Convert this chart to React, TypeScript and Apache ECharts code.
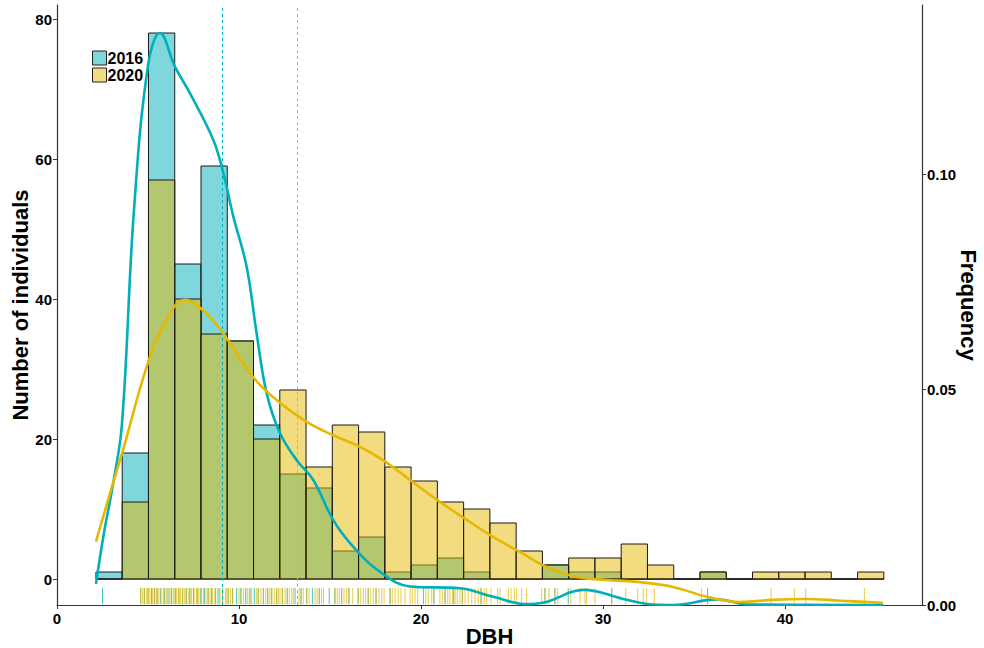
import React, { useEffect, useRef } from "react";
import * as echarts from "echarts";

// ---- Data ----
const binStart = 2.14; // first histogram bin edge (DBH)
const binWidth = 1.443; // histogram bin width (30 bins)
const counts2016 = [1, 18, 78, 45, 59, 34, 22, 15, 13, 4, 6, 1, 2, 3, 1, 0, 0, 2, 1, 1, 0, 0, 0, 1, 0, 0, 0, 0, 0, 0];
const counts2020 = [0, 11, 57, 40, 35, 34, 20, 27, 16, 22, 21, 16, 14, 11, 10, 8, 4, 2, 3, 3, 5, 2, 0, 1, 0, 1, 1, 1, 0, 1];

const dens2016: [number, number][] = [
  [2.14, 0.0049], [2.58, 0.0167], [3.09, 0.0283], [3.57, 0.042], [4.23, 0.0916], [5.02, 0.1257],
  [5.66, 0.1327], [6.48, 0.1249], [7.31, 0.1187], [8.59, 0.1079], [9.14, 0.1002],
  [9.69, 0.0901], [10.42, 0.0785], [10.97, 0.063], [11.52, 0.0491], [12.25, 0.0399], [13.17, 0.0336],
  [14.08, 0.029], [15.18, 0.0197], [16.28, 0.0135], [17.75, 0.0077], [19.4, 0.0043], [22.14, 0.0039],
  [23.97, 0.0019], [25.8, 0.0002], [26.7, 0.0005], [28.92, 0.0035], [31.3, 0.0012], [32.75, 0.0001],
  [33.85, 0.0], [36.25, 0.0013], [38.08, 0.0001], [45.4, 0.0],
];
const dens2020: [number, number][] = [
  [2.14, 0.0147], [3.08, 0.0283], [3.63, 0.036], [4.93, 0.0553], [5.82, 0.0645], [7.03, 0.0708],
  [8.02, 0.0684], [9.12, 0.0631], [10.77, 0.0529], [12.25, 0.0469], [13.72, 0.0425], [15.16, 0.0394],
  [16.65, 0.0367], [17.91, 0.0336], [19.4, 0.029], [20.88, 0.0244], [22.53, 0.0197], [23.96, 0.0158],
  [25.44, 0.0123], [26.92, 0.0088], [28.57, 0.0065], [30.22, 0.0058], [32.03, 0.0053], [33.85, 0.0042],
  [35.71, 0.0019], [37.53, 0.0007], [39.34, 0.0012], [41.21, 0.0014], [43.02, 0.001], [45.38, 0.0005],
];

const mean2016 = 9.07;
const mean2020 = 13.19;

const rug2016 = [
  2.5, 4.6, 4.8, 5.0, 5.2, 5.35, 5.5, 5.7, 5.9, 6.1, 6.3, 6.5, 6.7, 6.9, 7.1, 7.3, 7.5, 7.7, 7.9, 8.1,
  8.3, 8.5, 8.7, 8.9, 9.1, 9.4, 9.65, 9.87, 10.1, 10.37, 10.6, 10.84, 11.06, 11.34, 11.58, 11.8, 12.07,
  12.38, 12.65, 13.08, 13.41, 13.72, 14.03, 14.41, 14.96, 15.27, 15.64, 16.04, 16.55, 17.1, 17.53,
  18.3, 20.13, 20.71, 21.32, 21.8, 22.27, 23.3, 26.81, 27.36, 28.09, 30.48, 35.75,
];
const rug2020 = [
  4.6, 4.71, 4.8, 4.93, 5.02, 5.11, 5.24, 5.35, 5.44, 5.51, 5.6, 5.71, 5.84, 5.93, 6.03, 6.17, 6.26,
  6.39, 6.48, 6.58, 6.67, 6.78, 6.89, 6.99, 7.09, 7.21, 7.31, 7.4, 7.53, 7.67, 7.76, 7.86, 7.95, 8.06,
  8.19, 8.31, 8.41, 8.53, 8.68, 8.81, 8.96, 9.1, 9.27, 9.29, 9.41, 9.54, 9.65, 10.0, 10.11, 10.24,
  10.37, 10.48, 10.6, 10.7, 10.97, 11.06, 11.21, 11.34, 11.47, 11.58, 11.7, 11.8, 11.94, 12.07, 12.16,
  12.25, 12.38, 12.53, 12.65, 12.76, 12.9, 12.98, 13.3, 13.41, 13.53, 13.72, 13.85, 14.18, 14.29,
  14.41, 14.54, 14.65, 15.27, 15.4, 15.51, 15.64, 15.77, 15.92, 16.04, 16.25, 16.55, 16.69, 16.83,
  16.96, 17.1, 17.24, 17.38, 17.53, 17.69, 17.84, 17.97, 18.3, 18.42, 18.57, 18.75, 18.9, 19.12,
  19.4, 19.52, 19.67, 19.82, 20.26, 20.4, 20.59, 20.71, 21.04, 21.17, 21.32, 21.47, 21.59, 21.74,
  21.87, 21.99, 22.14, 22.27, 22.42, 22.6, 22.79, 22.97, 23.15, 23.3, 23.48, 23.61, 23.85, 24.21,
  24.34, 24.8, 24.95, 25.13, 25.26, 25.53, 25.81, 26.63, 26.81, 27.03, 27.36, 27.51, 28.23, 28.74,
  29.01, 29.1, 29.56, 30.48, 31.25, 31.91, 32.21, 32.4, 32.82, 35.42, 39.23, 40.51, 41.14, 44.36,
];

const xTicks = [0, 10, 20, 30, 40];
const yTicks = [0, 20, 40, 60, 80];
const y2Ticks = [0, 0.05, 0.1];

// ---- Styles ----
const FONT = "Liberation Sans, Arial, sans-serif";
const CYAN = "#00AFBB";
const YELLOW = "#E7B800";
const AXIS = "#333333";

function barSeries(name: string, counts: number[], fill: string, z: number) {
  return {
    name,
    type: "custom",
    xAxisIndex: 0,
    yAxisIndex: 0,
    z,
    silent: true,
    encode: { x: [0, 1], y: 2 },
    data: counts.map((c, i) => [binStart + i * binWidth, binStart + (i + 1) * binWidth, c]),
    renderItem: (params: any, api: any) => {
      const p0 = api.coord([api.value(0), api.value(2)]);
      const p1 = api.coord([api.value(1), 0]);
      return {
        type: "rect",
        shape: { x: p0[0], y: p0[1], width: p1[0] - p0[0], height: p1[1] - p0[1] },
        style: { fill, stroke: "#1a1a1a", lineWidth: 1 },
      };
    },
  };
}

function rugSeries(name: string, values: number[], color: string, z: number) {
  return {
    name,
    type: "custom",
    xAxisIndex: 0,
    yAxisIndex: 0,
    z,
    silent: true,
    encode: { x: 0 },
    data: values.map((v) => [v]),
    renderItem: (params: any, api: any) => {
      const p = api.coord([api.value(0), -1.3]);
      const q = api.coord([api.value(0), -3.6]);
      return {
        type: "line",
        shape: { x1: p[0], y1: p[1], x2: q[0], y2: q[1] },
        style: { stroke: color, lineWidth: 1, opacity: 0.75 },
      };
    },
  };
}

export default function App() {
  const ref = useRef<HTMLDivElement>(null);
  useEffect(() => {
    if (!ref.current) return;
    const chart = echarts.init(ref.current, null, { renderer: "svg" });
    const labelStyle = { fontFamily: FONT, fontWeight: "bold", fontSize: 15, color: "#000" };
    const nameStyle = { fontFamily: FONT, fontWeight: "bold", fontSize: 22, color: "#000" };
    chart.setOption({
      animation: false,
      backgroundColor: "#ffffff",
      grid: { left: 57, right: 62, top: 5, bottom: 43, containLabel: false, outerBoundsMode: "none" },
      legend: {
        orient: "vertical",
        left: 92,
        top: 50,
        padding: 0,
        itemWidth: 14,
        itemHeight: 14,
        itemGap: 1,
        selectedMode: false,
        textStyle: { fontFamily: FONT, fontWeight: "bold", fontSize: 16, color: "#000", padding: [0, 0, 0, -4] },
        data: [
          { name: "2016", icon: "rect", itemStyle: { color: "#7fd7dd", borderColor: "#222", borderWidth: 1 } },
          { name: "2020", icon: "rect", itemStyle: { color: "#f3db7f", borderColor: "#222", borderWidth: 1 } },
        ],
      },
      xAxis: {
        type: "value",
        min: 0,
        max: 865 / 18.2,
        name: "DBH",
        nameLocation: "middle",
        nameGap: 20,
        nameMoveOverlap: false,
        nameTextStyle: nameStyle,
        splitLine: { show: false },
        axisLine: { show: true, onZero: false, lineStyle: { color: AXIS, width: 1.2 } },
        axisTick: { show: true, length: 4, customValues: xTicks, lineStyle: { color: AXIS } },
        axisLabel: { ...labelStyle, margin: 6, customValues: xTicks },
      },
      yAxis: [
        {
          type: "value",
          min: -26 / 7,
          max: 574 / 7,
          position: "left",
          name: "Number of individuals",
          nameLocation: "middle",
          nameGap: 26,
          nameMoveOverlap: false,
          nameTextStyle: nameStyle,
          splitLine: { show: false },
          axisLine: { show: true, onZero: false, lineStyle: { color: AXIS, width: 1.2 } },
          axisTick: { show: true, length: 4, customValues: yTicks, lineStyle: { color: AXIS } },
          axisLabel: { ...labelStyle, margin: 5, customValues: yTicks },
        },
        {
          type: "value",
          min: 0,
          max: 600 / 4310,
          position: "right",
          name: "Frequency",
          nameLocation: "middle",
          nameRotate: -90,
          nameGap: 35,
          nameMoveOverlap: false,
          nameTextStyle: nameStyle,
          splitLine: { show: false },
          axisLine: { show: true, onZero: false, lineStyle: { color: AXIS, width: 1.2 } },
          axisTick: { show: true, length: 4, customValues: y2Ticks, lineStyle: { color: AXIS } },
          axisLabel: {
            ...labelStyle,
            margin: 5,
            customValues: y2Ticks,
            formatter: (v: number) => v.toFixed(2),
          },
        },
      ],
      series: [
        barSeries("2016", counts2016, "rgba(0,175,187,0.5)", 1),
        barSeries("2020", counts2020, "rgba(231,184,0,0.5)", 2),
        rugSeries("rug2016", rug2016, CYAN, 3),
        rugSeries("rug2020", rug2020, YELLOW, 3),
        {
          name: "density2016",
          type: "line",
          xAxisIndex: 0,
          yAxisIndex: 1,
          z: 5,
          smooth: 0.4,
          showSymbol: false,
          silent: true,
          lineStyle: { color: CYAN, width: 2.6 },
          data: dens2016,
          markLine: {
            silent: true,
            symbol: "none",
            label: { show: false },
            lineStyle: { color: CYAN, type: [3, 3], width: 1 },
            data: [{ xAxis: mean2016 }],
          },
        },
        {
          name: "density2020",
          type: "line",
          xAxisIndex: 0,
          yAxisIndex: 1,
          z: 5,
          smooth: 0.4,
          showSymbol: false,
          silent: true,
          lineStyle: { color: YELLOW, width: 2.6 },
          data: dens2020,
          markLine: {
            silent: true,
            symbol: "none",
            label: { show: false },
            lineStyle: { color: YELLOW, type: [3, 3], width: 1 },
            data: [{ xAxis: mean2020 }],
          },
        },
      ],
    });
    return () => chart.dispose();
  }, []);
  return (
    <div
      ref={ref}
      style={{ position: "fixed", left: 0, top: 0, width: 984, height: 648, background: "#fff" }}
    />
  );
}
